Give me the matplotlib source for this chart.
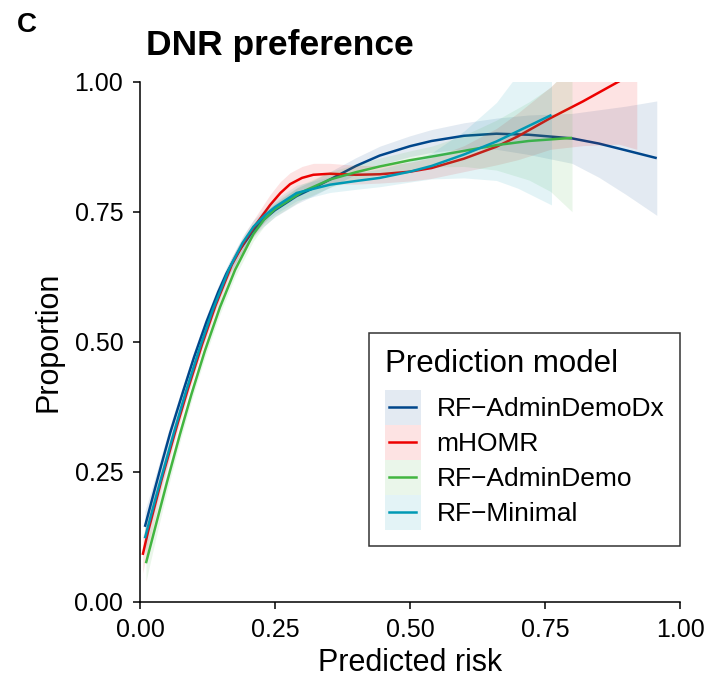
import matplotlib
matplotlib.use("Agg")
import matplotlib.pyplot as plt
from matplotlib.legend_handler import HandlerBase
from matplotlib.patches import Rectangle
from matplotlib.lines import Line2D

plt.rcParams['font.family'] = ['Liberation Sans', 'DejaVu Sans']

# ---- data ----
models = ["RF\u2212AdminDemoDx", "mHOMR", "RF\u2212AdminDemo", "RF\u2212Minimal"]
colors = ["#00468B", "#ED0000", "#42B540", "#0099B4"]

blue_x = [0.009, 0.025, 0.04, 0.056, 0.08, 0.10, 0.123, 0.145, 0.16, 0.182, 0.21, 0.228, 0.25, 0.29, 0.32, 0.352, 0.40, 0.444, 0.50, 0.54, 0.60, 0.66, 0.72, 0.80, 0.85, 0.90, 0.957]
blue_y = [0.144, 0.207, 0.265, 0.325, 0.405, 0.47, 0.538, 0.596, 0.631, 0.673, 0.714, 0.734, 0.753, 0.78, 0.795, 0.812, 0.838, 0.858, 0.876, 0.886, 0.896, 0.900, 0.898, 0.891, 0.881, 0.868, 0.853]
blue_se = [0.03, 0.022, 0.018, 0.015, 0.013, 0.012, 0.012, 0.012, 0.012, 0.012, 0.012, 0.013, 0.013, 0.015, 0.015, 0.015, 0.016, 0.018, 0.02, 0.022, 0.025, 0.03, 0.038, 0.048, 0.065, 0.085, 0.11]

red_x = [0.005, 0.015, 0.04, 0.068, 0.089, 0.115, 0.14, 0.17, 0.195, 0.215, 0.241, 0.26, 0.278, 0.30, 0.321, 0.352, 0.40, 0.444, 0.50, 0.54, 0.60, 0.66, 0.70, 0.76, 0.82, 0.886, 0.92]
red_y = [0.09, 0.135, 0.235, 0.337, 0.41, 0.495, 0.57, 0.648, 0.695, 0.726, 0.763, 0.786, 0.803, 0.815, 0.821, 0.823, 0.821, 0.822, 0.827, 0.834, 0.852, 0.875, 0.895, 0.93, 0.962, 1.0, 1.02]
red_se = [0.035, 0.03, 0.02, 0.015, 0.013, 0.013, 0.013, 0.014, 0.015, 0.016, 0.02, 0.022, 0.022, 0.022, 0.022, 0.02, 0.018, 0.017, 0.018, 0.02, 0.025, 0.035, 0.045, 0.06, 0.085, 0.12, 0.15]

green_x = [0.011, 0.03, 0.05, 0.074, 0.095, 0.12, 0.148, 0.176, 0.21, 0.23, 0.25, 0.30, 0.352, 0.40, 0.444, 0.50, 0.54, 0.60, 0.66, 0.72, 0.76, 0.80]
green_y = [0.074, 0.15, 0.23, 0.322, 0.398, 0.482, 0.566, 0.638, 0.707, 0.735, 0.755, 0.788, 0.812, 0.826, 0.837, 0.849, 0.856, 0.867, 0.878, 0.886, 0.889, 0.892]
green_se = [0.035, 0.025, 0.018, 0.015, 0.013, 0.013, 0.013, 0.013, 0.013, 0.013, 0.014, 0.015, 0.015, 0.015, 0.016, 0.018, 0.02, 0.03, 0.048, 0.075, 0.1, 0.142]

teal_x = [0.009, 0.03, 0.063, 0.085, 0.11, 0.135, 0.165, 0.19, 0.21, 0.23, 0.25, 0.29, 0.352, 0.40, 0.444, 0.50, 0.54, 0.60, 0.66, 0.70, 0.762]
teal_y = [0.122, 0.203, 0.326, 0.404, 0.486, 0.562, 0.64, 0.69, 0.721, 0.742, 0.759, 0.786, 0.802, 0.809, 0.815, 0.827, 0.838, 0.86, 0.885, 0.905, 0.936]
teal_se = [0.03, 0.02, 0.015, 0.013, 0.013, 0.013, 0.013, 0.013, 0.013, 0.013, 0.014, 0.015, 0.015, 0.016, 0.017, 0.02, 0.025, 0.045, 0.075, 0.11, 0.173]

series = [(blue_x, blue_y, blue_se), (red_x, red_y, red_se),
          (green_x, green_y, green_se), (teal_x, teal_y, teal_se)]

ticks = [0.0, 0.25, 0.5, 0.75, 1.0]
tick_labels = ["0.00", "0.25", "0.50", "0.75", "1.00"]

# ---- figure ----
fig = plt.figure(figsize=(7.14, 6.77), dpi=100)
ax = fig.add_axes([140/714, 1-601.7/677, 540/714, 520/677])

handles = []
for i, ((xs, ys, se), c, name) in enumerate(zip(series, colors, models)):
    lo = [y - s for y, s in zip(ys, se)]
    hi = [y + s for y, s in zip(ys, se)]
    ax.fill_between(xs, lo, hi, color=c, alpha=0.11, linewidth=0, zorder=2 + 2*i)
    ln, = ax.plot(xs, ys, color=c, lw=1.8, zorder=3 + 2*i,
                  solid_capstyle='butt', solid_joinstyle='round')
    handles.append(ln)

ax.set_xlim(0, 1)
ax.set_ylim(0, 1)
ax.set_xticks(ticks)
ax.set_xticklabels(tick_labels)
ax.set_yticks(ticks)
ax.set_yticklabels(tick_labels)
for s in ["top", "right"]:
    ax.spines[s].set_visible(False)
for s in ["left", "bottom"]:
    ax.spines[s].set_linewidth(1.1)
    ax.spines[s].set_color("black")
ax.tick_params(axis='both', length=5, width=1.1, color='black',
               labelsize=18, labelcolor='black', pad=7)
ax.set_xlabel("Predicted risk", fontsize=22, labelpad=4)
ax.set_ylabel("Proportion", fontsize=22, labelpad=8)

fig.text(146/714, 1-55/677, "DNR preference", fontsize=25.5, fontweight='bold',
         ha='left', va='baseline')
fig.text(17/714, 1-32/677, "C", fontsize=20, fontweight='bold',
         ha='left', va='baseline')


class KeyHandler(HandlerBase):
    def create_artists(self, legend, orig_handle, xdescent, ydescent,
                       width, height, fontsize, trans):
        c = orig_handle.get_color()
        rect = Rectangle((-xdescent, -ydescent), width, height,
                         facecolor=c, alpha=0.11, edgecolor='none',
                         transform=trans)
        line = Line2D([-xdescent + width*0.12, -xdescent + width*0.88],
                      [-ydescent + height/2]*2, color=c, lw=1.8,
                      transform=trans)
        return [rect, line]


leg = fig.legend(handles, models, loc='upper left',
                 bbox_to_anchor=(369/714, 1-333/677),
                 bbox_transform=fig.transFigure, borderaxespad=0,
                 title="Prediction model", title_fontsize=22.5, fontsize=19,
                 handler_map={Line2D: KeyHandler()},
                 handlelength=1.36, handleheight=1.66, labelspacing=0.0,
                 handletextpad=0.6, borderpad=0.6, frameon=True,
                 fancybox=False, alignment='left')
leg._legend_box.sep = 8
leg.get_frame().set_edgecolor('black')
leg.get_frame().set_linewidth(1.1)

fig.savefig("out.png", dpi=100)
